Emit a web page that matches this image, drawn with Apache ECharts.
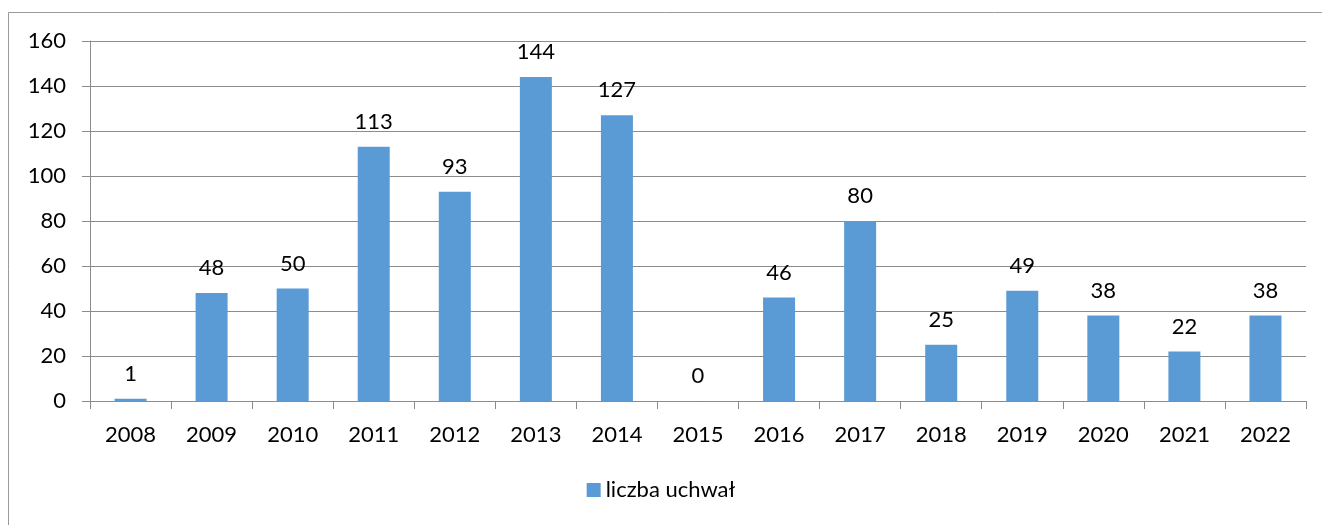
<!DOCTYPE html>
<html>
<head>
<meta charset="utf-8">
<script src="https://cdn.jsdelivr.net/npm/echarts@6/dist/echarts.min.js"></script>
<style>
html, body { margin: 0; padding: 0; background: #fff; }
#chart { width: 1322px; height: 525px; }
</style>
</head>
<body>
<div id="chart"></div>
<script>
var years = ['2008', '2009', '2010', '2011', '2012', '2013', '2014', '2015', '2016', '2017', '2018', '2019', '2020', '2021', '2022'];
var uchwaly = [1, 48, 50, 113, 93, 144, 127, 0, 46, 80, 25, 49, 38, 22, 38];
var seriesName = 'liczba uchwał';

var chart = echarts.init(document.getElementById('chart'));
var font = 'Lato, "Noto Sans", sans-serif';

var option = {
    animation: false,
    textStyle: { fontFamily: font },
    graphic: [{
        type: 'rect',
        shape: { x: 8.5, y: 12.5, width: 1400, height: 600 },
        style: { fill: 'none', stroke: '#9a9a9a', lineWidth: 1 },
        silent: true
    }],
    grid: { left: 90, right: 16, top: 41, bottom: 124 },
    legend: {
        bottom: 19,
        left: 'center',
        itemWidth: 14,
        itemHeight: 14,
        icon: 'rect',
        itemGap: 4,
        textStyle: { fontSize: 22, color: '#000', fontFamily: font },
        data: [seriesName]
    },
    xAxis: {
        type: 'category',
        data: years,
        axisLine: { lineStyle: { color: '#8c8c8c' } },
        axisTick: { show: true, length: 8, alignWithLabel: false, lineStyle: { color: '#8c8c8c' } },
        axisLabel: { fontSize: 22, color: '#000', margin: 23, fontFamily: font }
    },
    yAxis: {
        type: 'value',
        min: 0,
        max: 160,
        interval: 20,
        axisLine: { show: true, lineStyle: { color: '#8c8c8c' } },
        axisTick: { show: true, length: 8, lineStyle: { color: '#8c8c8c' } },
        axisLabel: { fontSize: 22, color: '#000', margin: 24, fontFamily: font },
        splitLine: { lineStyle: { color: '#8c8c8c' } }
    },
    series: [{
        name: seriesName,
        type: 'bar',
        data: uchwaly,
        barWidth: 32,
        itemStyle: { color: '#5b9bd5' },
        label: {
            show: true,
            position: 'top',
            distance: 14,
            fontSize: 22,
            color: '#000',
            fontFamily: font
        }
    }]
};

chart.setOption(option);
window.onresize = chart.resize;
</script>
</body>
</html>
